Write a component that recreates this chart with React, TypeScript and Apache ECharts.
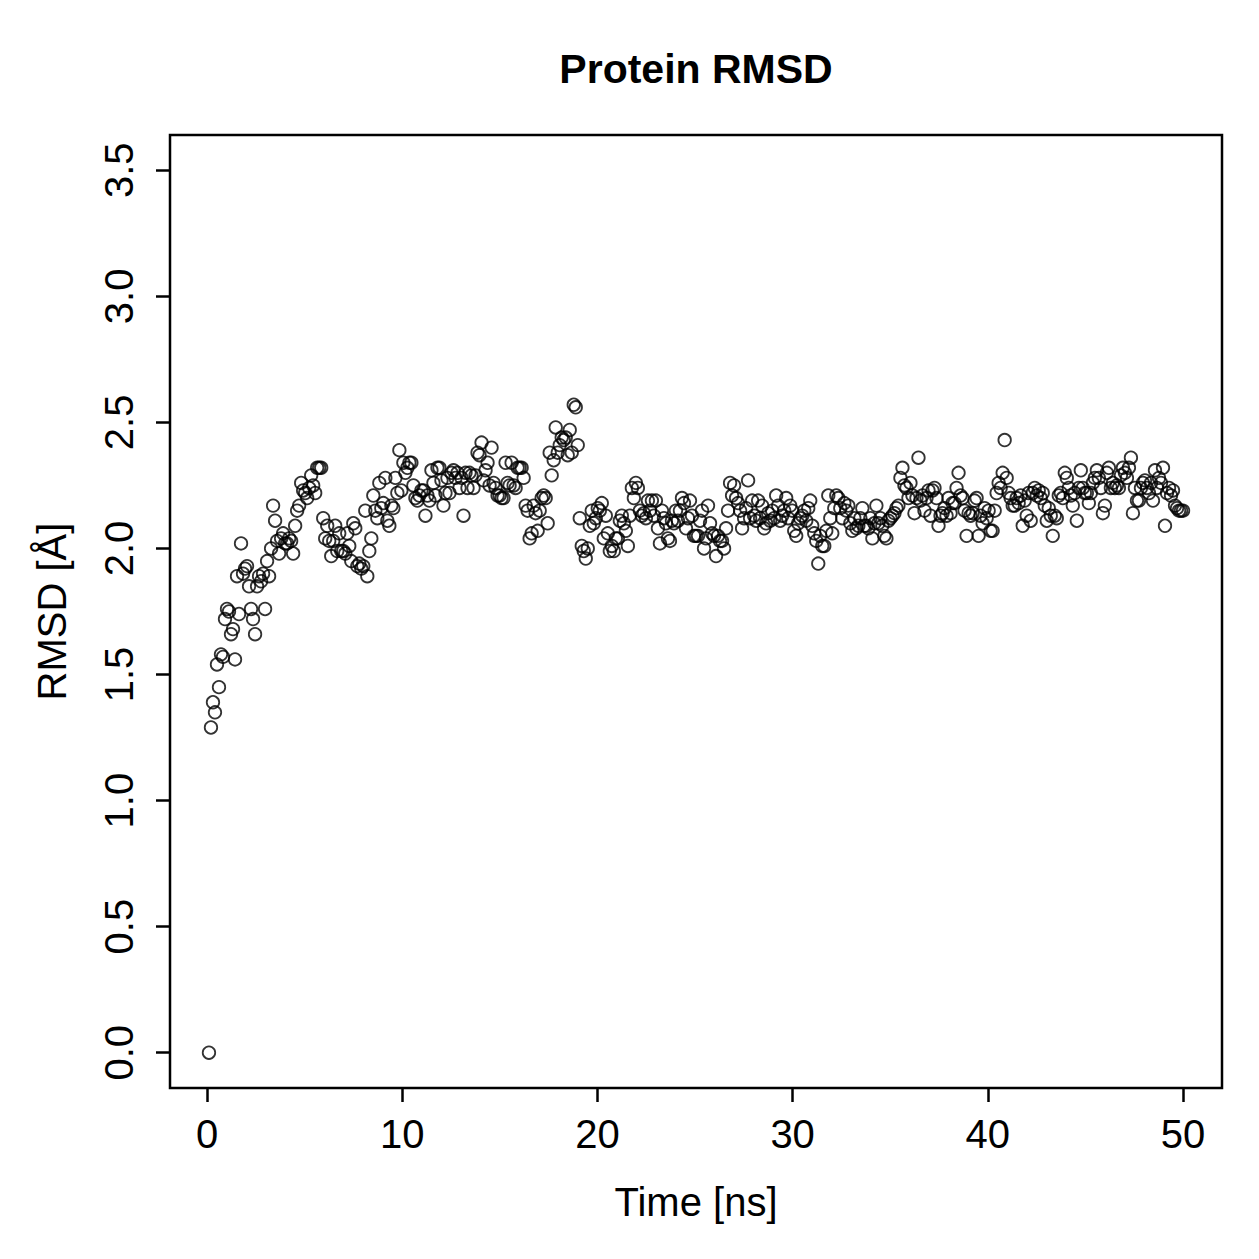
import React, { useEffect, useRef } from "react";
import * as echarts from "echarts";

const TITLE = "Protein RMSD";
const X_NAME = "Time [ns]";
const Y_NAME = "RMSD [Å]";
const X_TICKS = [0, 10, 20, 30, 40, 50];
const Y_TICKS = [0, 0.5, 1, 1.5, 2, 2.5, 3, 3.5];
const T_START = 0.1;
const T_END = 50;

// RMSD per frame (Å)
const RMSD = [
  0.00, 1.29, 1.39, 1.35, 1.54, 1.45, 1.58, 1.57, 1.72, 1.76, 1.75, 1.66, 1.68, 1.56, 1.89, 1.74, 2.02, 1.90, 1.92, 1.93,
  1.85, 1.76, 1.72, 1.66, 1.85, 1.89, 1.87, 1.90, 1.76, 1.95, 1.89, 2.00, 2.17, 2.11, 2.03, 1.98, 2.04, 2.06, 2.02, 2.02,
  2.04, 2.03, 1.98, 2.09, 2.15, 2.17, 2.26, 2.23, 2.22, 2.20, 2.24, 2.29, 2.25, 2.22, 2.32, 2.32, 2.32,
  2.12, 2.04, 2.09, 2.03, 1.97, 2.03, 2.09, 1.99, 2.06, 1.99, 1.99, 1.98, 2.06, 2.01, 1.95, 2.10, 2.08, 1.93, 1.94, 1.92,
  1.93, 2.15, 1.89, 1.99, 2.04, 2.21, 2.15, 2.12, 2.26, 2.16, 2.18, 2.28, 2.11, 2.09, 2.17, 2.16, 2.28, 2.22, 2.39, 2.23,
  2.34, 2.30, 2.32, 2.34, 2.34, 2.25, 2.20, 2.19, 2.21, 2.23, 2.23, 2.13, 2.21, 2.19, 2.31, 2.26, 2.21, 2.32, 2.32, 2.27,
  2.17, 2.22, 2.28, 2.22, 2.30, 2.31, 2.28, 2.30, 2.24, 2.28, 2.13, 2.30, 2.24, 2.30, 2.29, 2.24, 2.29, 2.38, 2.37, 2.42,
  2.27, 2.31, 2.34, 2.25, 2.40, 2.26, 2.24, 2.21, 2.21, 2.20, 2.20, 2.34, 2.26, 2.25, 2.34, 2.25, 2.24, 2.32, 2.32, 2.32,
  2.28, 2.17, 2.15, 2.04, 2.06, 2.17, 2.14, 2.07, 2.15, 2.20, 2.21, 2.20, 2.10, 2.38, 2.29, 2.35, 2.48, 2.38, 2.41, 2.44,
  2.43, 2.44, 2.37, 2.47, 2.38, 2.57, 2.56, 2.41, 2.12, 2.01, 1.99, 1.96, 2.00, 2.09, 2.15, 2.10, 2.12, 2.16, 2.15, 2.18,
  2.04, 2.13, 2.06, 1.99, 2.01, 1.99, 2.04, 2.04, 2.11, 2.13, 2.10, 2.07, 2.01, 2.13, 2.24, 2.20, 2.26, 2.24, 2.15, 2.13,
  2.14, 2.12, 2.19, 2.15, 2.19, 2.13, 2.19, 2.08, 2.02, 2.15, 2.12, 2.10, 2.04, 2.03, 2.11, 2.10, 2.15, 2.11, 2.15, 2.20,
  2.18, 2.08, 2.12, 2.19, 2.13, 2.05, 2.05, 2.05, 2.11, 2.15, 2.00, 2.04, 2.17, 2.10, 2.06, 2.05, 1.97, 2.05, 2.03, 2.03,
  2.00, 2.08, 2.15, 2.26, 2.21, 2.25, 2.20, 2.18, 2.15, 2.08, 2.12, 2.16, 2.27, 2.12, 2.19, 2.13, 2.11, 2.19, 2.12, 2.17,
  2.08, 2.10, 2.14, 2.11, 2.15, 2.12, 2.21, 2.17, 2.11, 2.13, 2.15, 2.20, 2.12, 2.17, 2.15, 2.07, 2.05, 2.10, 2.12, 2.13,
  2.15, 2.11, 2.16, 2.19, 2.09, 2.06, 2.03, 1.94, 2.05, 2.01, 2.01, 2.07, 2.21, 2.12, 2.06, 2.16, 2.21, 2.20, 2.16, 2.12,
  2.18, 2.15, 2.17, 2.10, 2.07, 2.12, 2.08, 2.09, 2.12, 2.16, 2.09, 2.09, 2.08, 2.12, 2.04, 2.10, 2.17, 2.10, 2.12, 2.09,
  2.05, 2.04, 2.11, 2.12, 2.13, 2.14, 2.16, 2.17, 2.28, 2.32, 2.25, 2.24, 2.20, 2.26, 2.21, 2.14, 2.20, 2.36, 2.19, 2.21,
  2.15, 2.20, 2.23, 2.13, 2.23, 2.24, 2.20, 2.09, 2.13, 2.14, 2.16, 2.13, 2.20, 2.14, 2.18, 2.18, 2.24, 2.30, 2.21, 2.20,
  2.15, 2.05, 2.14, 2.13, 2.14, 2.19, 2.20, 2.05, 2.13, 2.10, 2.16, 2.12, 2.15, 2.07, 2.07, 2.15, 2.22, 2.26, 2.24, 2.30,
  2.43, 2.28, 2.22, 2.20, 2.17, 2.17, 2.20, 2.18, 2.21, 2.09, 2.19, 2.13, 2.22, 2.11, 2.22, 2.24, 2.21, 2.23, 2.20, 2.22,
  2.17, 2.11, 2.16, 2.13, 2.05, 2.13, 2.12, 2.21, 2.22, 2.20, 2.30, 2.28, 2.24, 2.21, 2.17, 2.22, 2.11, 2.24, 2.31, 2.24,
  2.22, 2.22, 2.18, 2.22, 2.26, 2.28, 2.31, 2.28, 2.24, 2.14, 2.17, 2.30, 2.32, 2.24, 2.26, 2.24, 2.25, 2.24, 2.29, 2.32,
  2.30, 2.28, 2.32, 2.36, 2.14, 2.24, 2.19, 2.19, 2.24, 2.26, 2.27, 2.24, 2.22, 2.26, 2.19, 2.31, 2.24, 2.28, 2.26, 2.32,
  2.09, 2.22, 2.24, 2.21, 2.23, 2.17, 2.16, 2.15, 2.15, 2.15,
];

export default function App() {
  const ref = useRef<HTMLDivElement>(null);
  useEffect(() => {
    if (!ref.current) return;
    const chart = echarts.init(ref.current, null, { renderer: "svg" });
    const n = RMSD.length;
    const step = (T_END - T_START) / (n - 1);
    const data = RMSD.map((v, i) => [T_START + i * step, v]);
    const font = "'Liberation Sans', Arial, Helvetica, sans-serif";
    const xPad = (T_END - T_START) * 0.04;
    const yPad = 3.5 * 0.04;
    chart.setOption({
      animation: false,
      backgroundColor: "#ffffff",
      textStyle: { fontFamily: font, color: "#000" },
      title: {
        text: TITLE,
        left: 691,
        top: 43,
        textAlign: "center",
        textStyle: { fontFamily: font, fontWeight: "bold", fontSize: 41, color: "#000" },
      },
      grid: {
        left: 170,
        top: 135,
        right: 37,
        bottom: 171,
        show: true,
        borderColor: "#000",
        borderWidth: 2.5,
        backgroundColor: "transparent",
      },
      xAxis: {
        type: "value",
        min: T_START - xPad,
        max: T_END + xPad,
        name: X_NAME,
        nameLocation: "middle",
        nameGap: 114,
        nameTextStyle: { fontFamily: font, fontSize: 40, color: "#000", verticalAlign: "middle" },
        axisLine: { show: false, onZero: false },
        splitLine: { show: false },
        axisTick: {
          show: true,
          length: 14,
          customValues: X_TICKS,
          lineStyle: { color: "#000", width: 2.5 },
        },
        axisLabel: {
          customValues: X_TICKS,
          margin: 26,
          fontFamily: font,
          fontSize: 40,
          color: "#000",
          formatter: (v: number) => String(v),
        },
      },
      yAxis: {
        type: "value",
        min: -yPad,
        max: 3.5 + yPad,
        name: Y_NAME,
        nameLocation: "middle",
        nameGap: 118,
        nameRotate: 90,
        nameTextStyle: { fontFamily: font, fontSize: 40, color: "#000", verticalAlign: "middle" },
        axisLine: { show: false, onZero: false },
        splitLine: { show: false },
        axisTick: {
          show: true,
          length: 14,
          customValues: Y_TICKS,
          lineStyle: { color: "#000", width: 2.5 },
        },
        axisLabel: {
          customValues: Y_TICKS,
          rotate: 90,
          margin: 31,
          fontFamily: font,
          fontSize: 40,
          color: "#000",
          formatter: (v: number) => v.toFixed(1),
        },
      },
      series: [
        {
          type: "scatter",
          data,
          symbol: "circle",
          symbolSize: 12.5,
          itemStyle: { color: "rgba(0,0,0,0)", borderColor: "#000", borderWidth: 1.8 },
          emphasis: { disabled: true },
        },
      ],
    });
    return () => chart.dispose();
  }, []);
  return (
    <div
      ref={ref}
      style={{ position: "fixed", left: 0, top: 0, width: 1259, height: 1259, background: "#fff" }}
    />
  );
}
